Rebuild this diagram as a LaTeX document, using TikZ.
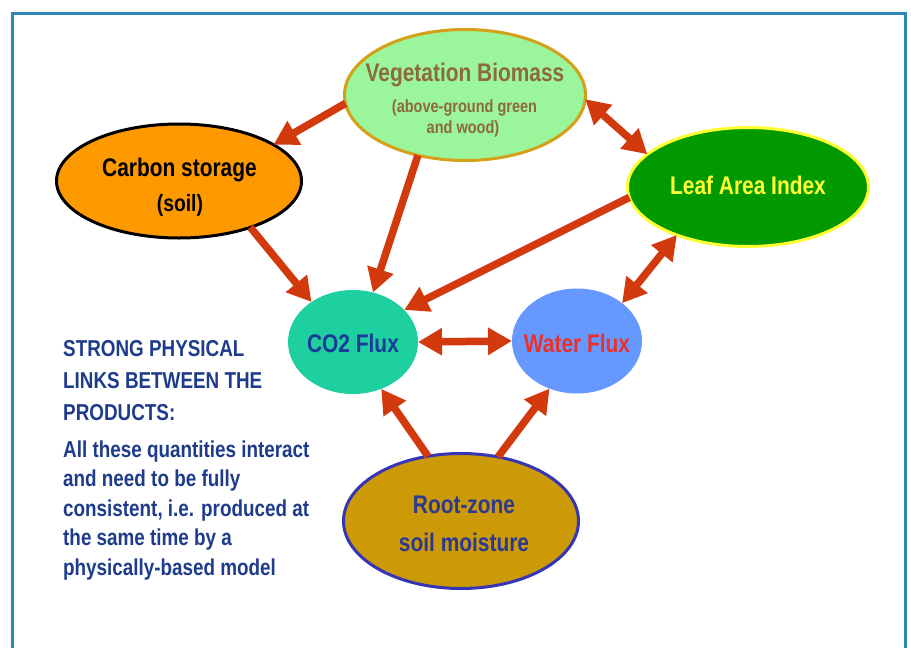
\documentclass[tikz,border=0pt]{standalone}
\usepackage{fontspec}
\newfontfamily\nf{Liberation Sans}[FakeStretch=0.82]
\usetikzlibrary{shapes.geometric,arrows.meta}
\definecolor{frameblue}{HTML}{2E86B5}
\definecolor{arrowred}{HTML}{D23A0E}
\definecolor{vegfill}{HTML}{9BF59B}
\definecolor{vegline}{HTML}{D4A017}
\definecolor{vegtext}{HTML}{8C6A3C}
\definecolor{carbfill}{HTML}{FF9900}
\definecolor{laifill}{HTML}{009A00}
\definecolor{lailine}{HTML}{FFFF33}
\definecolor{cofill}{HTML}{1ECF9F}
\definecolor{cotext}{HTML}{1A3A9A}
\definecolor{wfill}{HTML}{6699FF}
\definecolor{wtext}{HTML}{E8312A}
\definecolor{rootfill}{HTML}{CC9A06}
\definecolor{rootline}{HTML}{3535B5}
\definecolor{roottext}{HTML}{2B3990}
\definecolor{sidetext}{HTML}{1F3C8C}
\begin{document}
\begin{tikzpicture}[x=1pt,y=-1pt,
  blob/.style={ellipse, inner sep=0pt, outer sep=0pt, line width=3pt},
  big/.style={font=\nf\bfseries\fontsize{25.5}{30}\selectfont, anchor=base, inner sep=0pt},
  mid/.style={font=\nf\bfseries\fontsize{23.5}{28}\selectfont, anchor=base, inner sep=0pt},
  small/.style={font=\nf\bfseries\fontsize{17.7}{21}\selectfont, anchor=base, inner sep=0pt},
  side/.style={font=\nf\bfseries\fontsize{23}{28}\selectfont, anchor=base west, inner sep=0pt, text=sidetext},
  tipx/.tip={Triangle[length=24pt,width=26pt]},
  link/.style={line width=7.5pt, draw=arrowred, -tipx},
  both/.style={line width=7.5pt, draw=arrowred, tipx-tipx}
]
\useasboundingbox (0,0) rectangle (911,648);
\fill[white] (0,0) rectangle (911,648);
\draw[line width=3pt, frameblue] (12,648) |- (905,13) -- (905,648);

% ellipses
\node[blob, fill=vegfill, draw=vegline, minimum width=241pt, minimum height=131pt] (veg) at (465,95) {};
\node[blob, fill=carbfill, draw=black, minimum width=245pt, minimum height=114pt] (carb) at (179,181) {};
\node[blob, fill=laifill, draw=lailine, minimum width=241pt, minimum height=119pt] (lai) at (748,187) {};
\node[blob, fill=cofill, minimum width=130pt, minimum height=104pt] (co2) at (353,342) {};
\node[blob, fill=wfill, minimum width=130pt, minimum height=105pt] (water) at (577,341) {};
\node[blob, fill=rootfill, draw=rootline, minimum width=235pt, minimum height=135pt] (root) at (461,521) {};

% texts in ellipses
\node[big, text=vegtext] (vegA) at (465,81) {Vegetation Biomass};
\node[small, text=vegtext] (vegB) at (464.5,112) {(above-ground green};
\node[small, text=vegtext] (vegC) at (463,133) {and wood)};
\node[big, text=black] (carbA) at (179.5,176.5) {Carbon storage};
\node[mid, text=black] (carbB) at (180,211) {(soil)};
\node[big, text=lailine] (laiA) at (748,194) {Leaf Area Index};
\node[big, text=cotext] (coA) at (353,352.5) {CO2 Flux};
\node[big, text=wtext] (wA) at (577,352.5) {Water Flux};
\node[big, text=roottext] (rootA) at (464,513) {Root-zone};
\node[big, text=roottext] (rootB) at (464,551) {soil moisture};

% side text
\node[side] (s1) at (63,356) {STRONG PHYSICAL};
\node[side] (s2) at (63,388) {LINKS BETWEEN THE};
\node[side] (s3) at (63,420) {PRODUCTS:};
\node[side] (s4) at (63,457) {All these quantities interact};
\node[side] (s5) at (63,486.5) {and need to be fully};
\node[side] (s6) at (63,516) {consistent, i.e. produced at};
\node[side] (s7) at (63,545.5) {the same time by a};
\node[side] (s8) at (63,575) {physically-based model};

% connectors
\draw[link] (veg.184) -- (carb.21);
\draw[link] (veg.232) -- (co2.68);
\draw[both] (veg.358) -- (lai.162);
\draw[link] (carb.327) -- (co2.136);
\draw[link] (lai.185) -- (co2.32);
\draw[both] (lai.214) -- (water.40);
\draw[both] (co2.east) -- (water.west);
\draw[link] (root.117) -- (co2.301);
\draw[link] (root.60) -- (water.240);
\end{tikzpicture}
\end{document}
